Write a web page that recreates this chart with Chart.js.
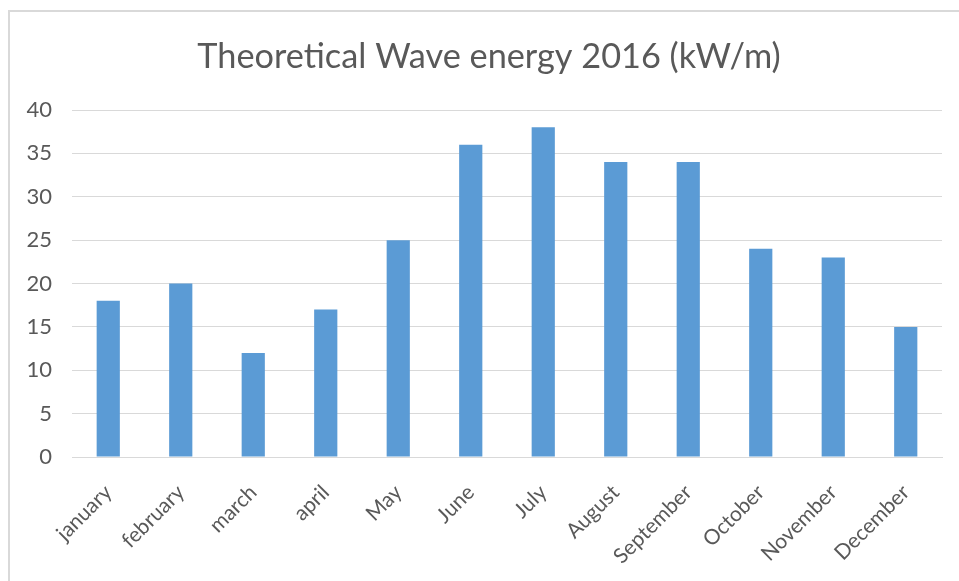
<!DOCTYPE html>
<html>
<head>
<meta charset="utf-8">
<script src="https://cdn.jsdelivr.net/npm/chart.js@4"></script>
<style>
  html, body { margin: 0; padding: 0; background: #fff; }
  #wrap { position: relative; width: 959px; height: 581px; overflow: hidden; }
  #frame { position: absolute; left: 8px; top: 10px; width: 1000px; height: 1000px;
           border-top: 2px solid #d9d9d9; border-left: 2px solid #d9d9d9; }
  canvas { position: absolute; left: 0; top: 0; }
</style>
</head>
<body>
<div id="wrap">
  <div id="frame"></div>
  <canvas id="c" width="959" height="581"></canvas>
</div>
<script>
const titleText = 'Theoretical Wave energy 2016 (kW/m)';
const months = ['january', 'february', 'march', 'april', 'May', 'June', 'July', 'August', 'September', 'October', 'November', 'December'];
const waveEnergy = [18, 20, 12, 17, 25, 36, 38, 34, 34, 24, 23, 15];
const yTicks = [0, 5, 10, 15, 20, 25, 30, 35, 40];

const FONT = 'Lato, "Open Sans", sans-serif';

// Title drawn centred like the original (slightly right of canvas centre)
const offsetTitle = {
  id: 'offsetTitle',
  afterDraw(chart) {
    const ctx = chart.ctx;
    ctx.save();
    ctx.font = 'normal 34.3px ' + FONT;
    ctx.fillStyle = '#595959';
    ctx.textAlign = 'center';
    ctx.textBaseline = 'middle';
    ctx.fillText(titleText, 489, 57);
    ctx.restore();
  }
};

new Chart(document.getElementById('c'), {
  type: 'bar',
  data: {
    labels: months,
    datasets: [{
      label: 'Wave energy',
      data: waveEnergy,
      backgroundColor: '#5b9bd5',
      borderWidth: 0,
      barPercentage: 0.32,
      categoryPercentage: 1.0
    }]
  },
  options: {
    responsive: false,
    animation: false,
    devicePixelRatio: 1,
    layout: { padding: { left: 0, right: 17, top: 110, bottom: 0 } },
    plugins: {
      legend: { display: false },
      tooltip: { enabled: false },
      title: { display: false }
    },
    scales: {
      x: {
        grid: { display: false, drawTicks: false },
        border: { display: true, color: '#d9d9d9', width: 1 },
        ticks: {
          color: '#595959',
          font: { family: FONT, size: 21 },
          minRotation: 45,
          maxRotation: 45,
          autoSkip: false,
          padding: 23
        },
        afterFit: function (s) { s.height = 124; }
      },
      y: {
        min: 0,
        max: 40,
        afterBuildTicks: function (s) { s.ticks = yTicks.map(v => ({ value: v })); },
        grid: { color: '#d9d9d9', drawTicks: false, lineWidth: 1 },
        border: { display: false },
        ticks: {
          color: '#595959',
          font: { family: FONT, size: 22 },
          padding: 20
        },
        afterFit: function (s) { s.width = 72; }
      }
    }
  },
  plugins: [offsetTitle]
});
</script>
</body>
</html>
